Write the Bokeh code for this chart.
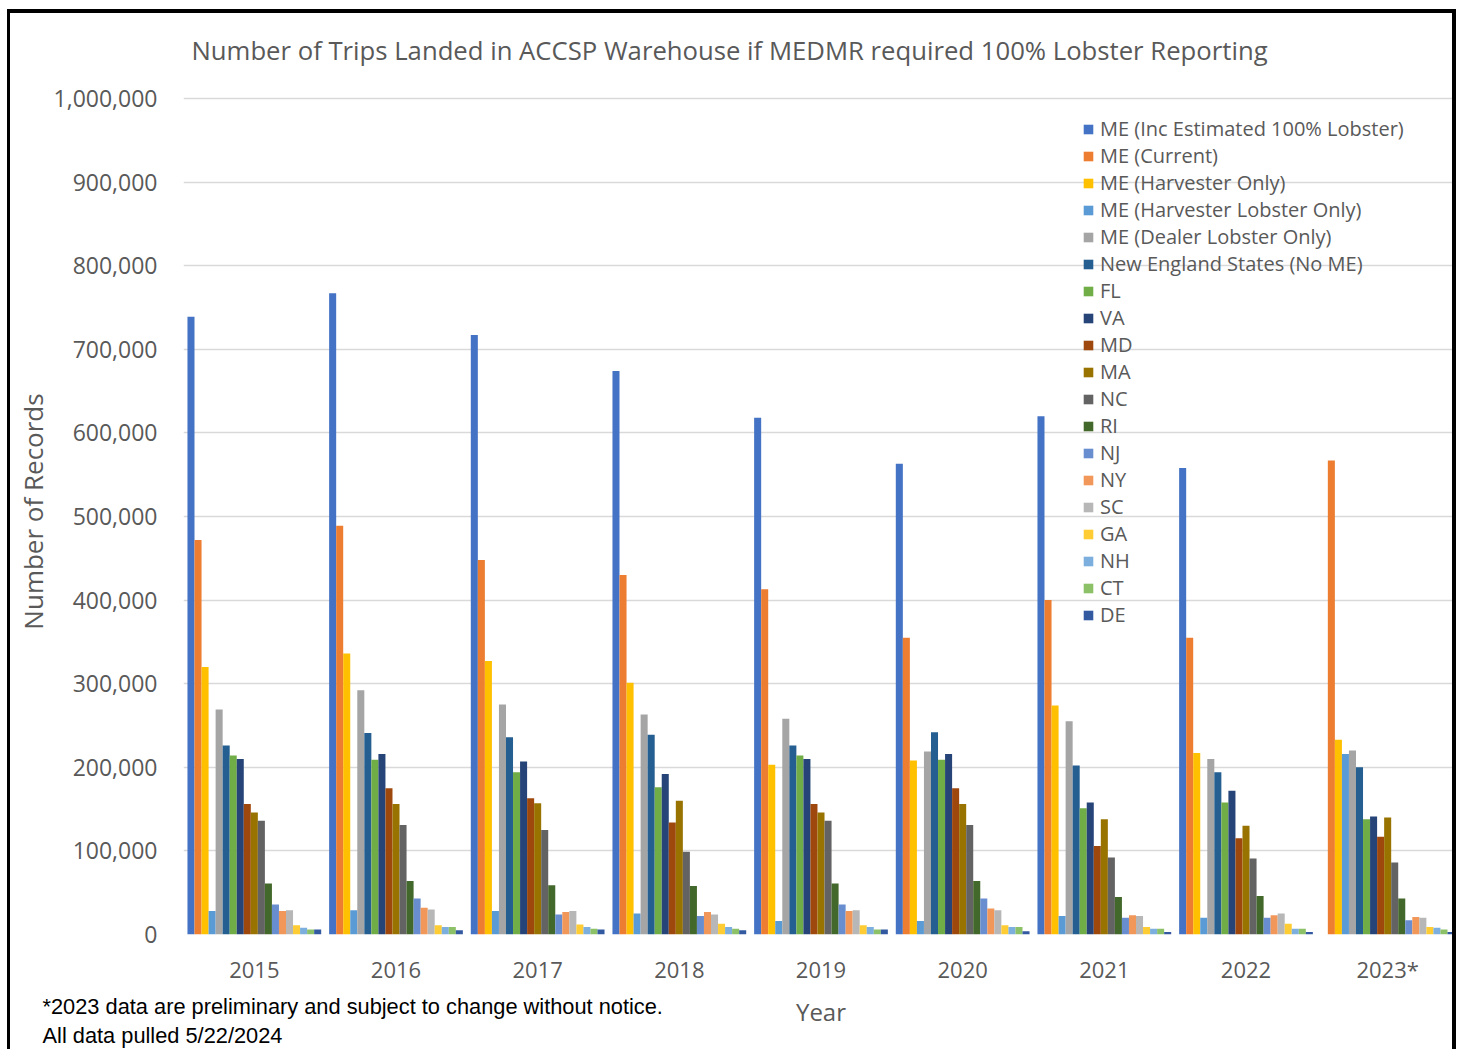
from bokeh.plotting import figure
from bokeh.models import (ColumnDataSource, Range1d, FixedTicker, NumeralTickFormatter,
                          Legend, LegendItem, Title)
from bokeh.transform import dodge
from bokeh.embed import file_html
from bokeh.resources import INLINE

years = ["2015", "2016", "2017", "2018", "2019", "2020", "2021", "2022", "2023*"]

series_names = [
    "ME (Inc Estimated 100% Lobster)", "ME (Current)", "ME (Harvester Only)",
    "ME (Harvester Lobster Only)", "ME (Dealer Lobster Only)", "New England States (No ME)",
    "FL", "VA", "MD", "MA", "NC", "RI", "NJ", "NY", "SC", "GA", "NH", "CT", "DE",
]

me_inc = [739000, 767000, 717000, 674000, 618000, 563000, 620000, 558000, 0]
me_current = [472000, 489000, 448000, 430000, 413000, 355000, 400000, 355000, 567000]
me_harvester = [320000, 336000, 327000, 301000, 203000, 208000, 274000, 217000, 233000]
me_harv_lobster = [28000, 29000, 28000, 25000, 16000, 16000, 22000, 20000, 216000]
me_dealer_lobster = [269000, 292000, 275000, 263000, 258000, 219000, 255000, 210000, 220000]
ne_states = [226000, 241000, 236000, 239000, 226000, 242000, 202000, 194000, 200000]
fl = [214000, 209000, 194000, 176000, 214000, 209000, 151000, 158000, 138000]
va = [210000, 216000, 207000, 192000, 210000, 216000, 158000, 172000, 141000]
md = [156000, 175000, 163000, 134000, 156000, 175000, 106000, 115000, 117000]
ma = [146000, 156000, 157000, 160000, 146000, 156000, 138000, 130000, 140000]
nc = [136000, 131000, 125000, 99000, 136000, 131000, 92000, 91000, 86000]
ri = [61000, 64000, 59000, 58000, 61000, 64000, 45000, 46000, 43000]
nj = [36000, 43000, 24000, 22000, 36000, 43000, 20000, 20000, 17000]
ny = [28000, 32000, 27000, 27000, 28000, 31000, 23000, 23000, 21000]
sc = [29000, 30000, 28000, 24000, 29000, 29000, 22000, 25000, 20000]
ga = [11000, 11000, 12000, 13000, 11000, 11000, 9000, 13000, 9000]
nh = [8000, 9000, 9000, 9000, 9000, 9000, 7000, 7000, 8000]
ct = [6000, 9000, 7000, 7000, 6000, 9000, 7000, 7000, 6000]
de = [6000, 5000, 6000, 5000, 6000, 4000, 3000, 3000, 3000]

series_values = [me_inc, me_current, me_harvester, me_harv_lobster, me_dealer_lobster,
                 ne_states, fl, va, md, ma, nc, ri, nj, ny, sc, ga, nh, ct, de]

colors = ["#4472C4", "#ED7D31", "#FFC000", "#5B9BD5", "#A5A5A5", "#255E91", "#70AD47",
          "#264478", "#9E480E", "#997300", "#636363", "#43682B", "#698ED0", "#F1975A",
          "#B7B7B7", "#FFCD33", "#7CAFDD", "#8CC168", "#335AA1"]

chart_title = "Number of Trips Landed in ACCSP Warehouse if MEDMR required 100% Lobster Reporting"
footnotes = ["*2023 data are preliminary and subject to change without notice.",
             "All data pulled 5/22/2024"]

TXT = "#595959"
FONT = "Open Sans"
NOTE_FONT = "Liberation Sans"

data = {"x": list(range(len(years)))}
for i, vals in enumerate(series_values):
    data["s%d" % i] = vals
source = ColumnDataSource(data)

# plot area with a little headroom above the top gridline
p = figure(width=1449, height=1040, output_backend="svg", toolbar_location=None,
           x_range=Range1d(-0.5, len(years) - 0.5), y_range=Range1d(0, 1011905),
           min_border_left=173, min_border_right=1, min_border_top=71, min_border_bottom=119)
p.styles = {"margin-left": "7px", "margin-top": "9px",
            "border-top": "4px solid black", "border-left": "3px solid black",
            "border-right": "4px solid black"}
p.outline_line_color = None
p.background_fill_color = "white"
p.border_fill_color = "white"

n = len(series_values)
w = 0.944 / n
items = []
for k in range(n):
    off = (k - (n - 1) / 2) * w
    r = p.vbar(x=dodge("x", off), top="s%d" % k, width=w, source=source,
               fill_color=colors[k], line_color=None)
    items.append(LegendItem(label=series_names[k], renderers=[r]))

# axes
p.yaxis.ticker = FixedTicker(ticks=list(range(0, 1000001, 100000)))
p.yaxis.formatter = NumeralTickFormatter(format="0,0")
p.xaxis.ticker = FixedTicker(ticks=list(range(len(years))))
p.xaxis.major_label_overrides = {i: y for i, y in enumerate(years)}
for ax in (p.xaxis, p.yaxis):
    ax.axis_line_color = None
    ax.major_tick_line_color = None
    ax.minor_tick_line_color = None
    ax.major_tick_out = 0
    ax.major_tick_in = 0
    ax.major_label_text_color = TXT
    ax.major_label_text_font = FONT
    ax.axis_label_text_color = TXT
    ax.axis_label_text_font_style = "normal"
    ax.axis_label_text_font = FONT
p.yaxis.major_label_text_font_size = "23px"
p.yaxis.major_label_standoff = 26
p.yaxis.axis_label = "Number of Records"
p.yaxis.axis_label_text_font_size = "26px"
p.yaxis.axis_label_standoff = 0
p.xaxis.major_label_text_font_size = "22px"
p.xaxis.major_label_standoff = 19
p.xaxis.axis_label = "Year"
p.xaxis.axis_label_text_font_size = "24px"
p.xaxis.axis_label_standoff = 8

p.xgrid.grid_line_color = None
p.ygrid.grid_line_color = "#D9D9D9"
p.ygrid.grid_line_width = 1.5

legend = Legend(items=items, location=(899, 306), padding=0, margin=0, spacing=0,
                label_height=26, glyph_height=12, glyph_width=12, label_standoff=6,
                label_text_font=FONT, label_text_font_size="20px", label_text_color=TXT,
                background_fill_alpha=0, border_line_alpha=0)
p.add_layout(legend, "center")

# chart title
p.add_layout(Title(text=chart_title, align="left", offset=8, vertical_align="top",
                   standoff=38, text_font=FONT, text_font_size="25.7px",
                   text_font_style="normal", text_color=TXT), "above")

# footnotes, lifted up beside the x-axis title
p.add_layout(Title(text="\n".join(footnotes), align="left", offset=-141, vertical_align="top",
                   standoff=-74, text_font=NOTE_FONT, text_font_size="21.8px",
                   text_line_height=1.16, text_font_style="normal", text_color="#000000"),
             "below")

open("out.html", "w").write(file_html(p, INLINE))
